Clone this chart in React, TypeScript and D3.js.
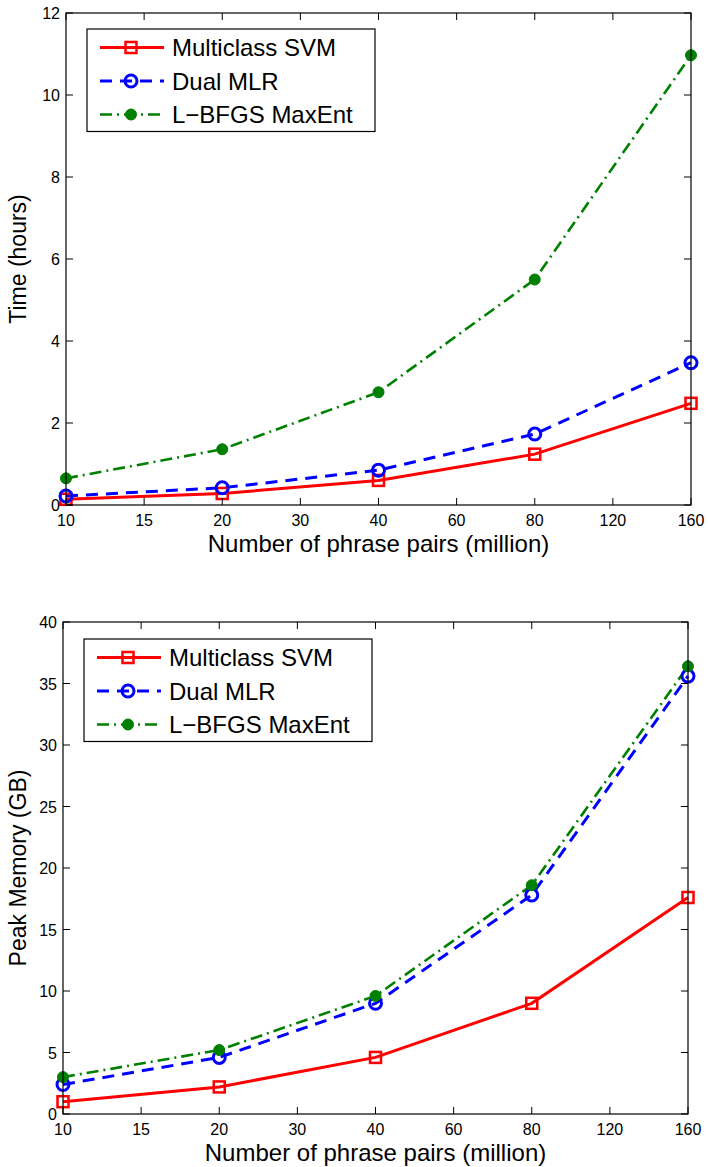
import React from "react";
import * as d3 from "d3";

const xTickLabels = [10, 15, 20, 30, 40, 60, 80, 120, 160];
const phrasePairs = [10, 20, 40, 80, 160];
const seriesNames = ["Multiclass SVM", "Dual MLR", "L\u2212BFGS MaxEnt"];

const timeSVM = [0.14, 0.28, 0.6, 1.24, 2.48];
const timeMLR = [0.22, 0.42, 0.85, 1.73, 3.47];
const timeLBFGS = [0.65, 1.36, 2.75, 5.5, 10.97];

const memSVM = [1.0, 2.2, 4.6, 9.0, 17.6];
const memMLR = [2.4, 4.6, 9.0, 17.8, 35.6];
const memLBFGS = [3.0, 5.2, 9.6, 18.6, 36.4];

const timeTicks = [0, 2, 4, 6, 8, 10, 12];
const memTicks = [0, 5, 10, 15, 20, 25, 30, 35, 40];

const FONT = "'Liberation Sans', Arial, Helvetica, sans-serif";

type Style = { color: string; dash: string; width: number; marker: "square" | "circle" | "dot" };
const styles: Style[] = [
  { color: "#ff0000", dash: "none", width: 3, marker: "square" },
  { color: "#0000ff", dash: "12 8", width: 3, marker: "circle" },
  { color: "#008000", dash: "12 5 2 5", width: 2.6, marker: "dot" },
];

function Marker({ s, x, y }: { s: Style; x: number; y: number }) {
  if (s.marker === "square")
    return <rect x={x - 5.5} y={y - 5.5} width={11} height={11} fill="none" stroke={s.color} strokeWidth={2.5} />;
  if (s.marker === "circle")
    return <circle cx={x} cy={y} r={6} fill="none" stroke={s.color} strokeWidth={3} />;
  return <circle cx={x} cy={y} r={5.5} fill={s.color} stroke={s.color} strokeWidth={1} />;
}

function Panel({
  left, right, top, bottom, yMax, yTicks, series, yLabel, legendTop,
}: {
  left: number; right: number; top: number; bottom: number; yMax: number; yTicks: number[];
  series: number[][]; yLabel: string; legendTop: number;
}) {
  const x = d3.scalePoint<number>().domain(xTickLabels).range([left, right]);
  const y = d3.scaleLinear().domain([0, yMax]).range([bottom, top]);
  const line = d3
    .line<number>()
    .x((_, i) => x(phrasePairs[i]) as number)
    .y((v) => y(v));
  const tl = 7;
  const legLeft = left + 21;
  const legRight = left + 309;
  const rowH = 33.5;
  return (
    <g>
      {series.map((vals, si) => (
        <path key={"l" + si} d={line(vals) || ""} fill="none" stroke={styles[si].color}
          strokeWidth={styles[si].width} strokeDasharray={styles[si].dash} />
      ))}
      {series.map((vals, si) =>
        vals.map((v, i) => (
          <Marker key={"m" + si + "-" + i} s={styles[si]} x={x(phrasePairs[i]) as number} y={y(v)} />
        ))
      )}
      <rect x={left} y={top} width={right - left} height={bottom - top} fill="none" stroke="#000" strokeWidth={1.2} />
      {xTickLabels.map((t) => {
        const px = x(t) as number;
        return (
          <g key={"xt" + t}>
            <line x1={px} x2={px} y1={bottom} y2={bottom - tl} stroke="#000" strokeWidth={1} />
            <line x1={px} x2={px} y1={top} y2={top + tl} stroke="#000" strokeWidth={1} />
            <text x={px} y={bottom + 21} textAnchor="middle" fontSize={16} fontFamily={FONT}>{t}</text>
          </g>
        );
      })}
      {yTicks.map((t) => {
        const py = y(t);
        return (
          <g key={"yt" + t}>
            <line x1={left} x2={left + tl} y1={py} y2={py} stroke="#000" strokeWidth={1} />
            <line x1={right} x2={right - tl} y1={py} y2={py} stroke="#000" strokeWidth={1} />
            <text x={left - 6} y={py + 6} textAnchor="end" fontSize={16} fontFamily={FONT}>{t}</text>
          </g>
        );
      })}
      <text x={(left + right) / 2} y={bottom + 47} textAnchor="middle" fontSize={24} fontFamily={FONT}>
        Number of phrase pairs (million)
      </text>
      <text transform={`translate(${26},${(top + bottom) / 2}) rotate(-90)`} textAnchor="middle" fontSize={23} fontFamily={FONT}>
        {yLabel}
      </text>
      <rect x={legLeft} y={legendTop} width={legRight - legLeft} height={rowH * 3 + 2} fill="#fff" stroke="#000" strokeWidth={1.2} />
      {seriesNames.map((name, si) => {
        const cy = legendTop + 18.5 + si * rowH;
        const s = styles[si];
        return (
          <g key={"lg" + si}>
            <line x1={legLeft + 13} x2={legLeft + 77} y1={cy} y2={cy} stroke={s.color} strokeWidth={s.width}
              strokeDasharray={s.dash} />
            <Marker s={s} x={legLeft + 44} y={cy} />
            <text x={legLeft + 85} y={cy + 8.5} fontSize={24} fontFamily={FONT}>{name}</text>
          </g>
        );
      })}
    </g>
  );
}

export default function App() {
  return (
    <svg width={708} height={1167} style={{ position: "absolute", left: 0, top: 0, background: "#fff" }}>
      <rect width={708} height={1167} fill="#fff" />
      <Panel left={66} right={691} top={13} bottom={505} yMax={12} yTicks={timeTicks}
        series={[timeSVM, timeMLR, timeLBFGS]} yLabel="Time (hours)" legendTop={29} />
      <Panel left={63} right={688} top={622} bottom={1114} yMax={40} yTicks={memTicks}
        series={[memSVM, memMLR, memLBFGS]} yLabel="Peak Memory (GB)" legendTop={639} />
    </svg>
  );
}
